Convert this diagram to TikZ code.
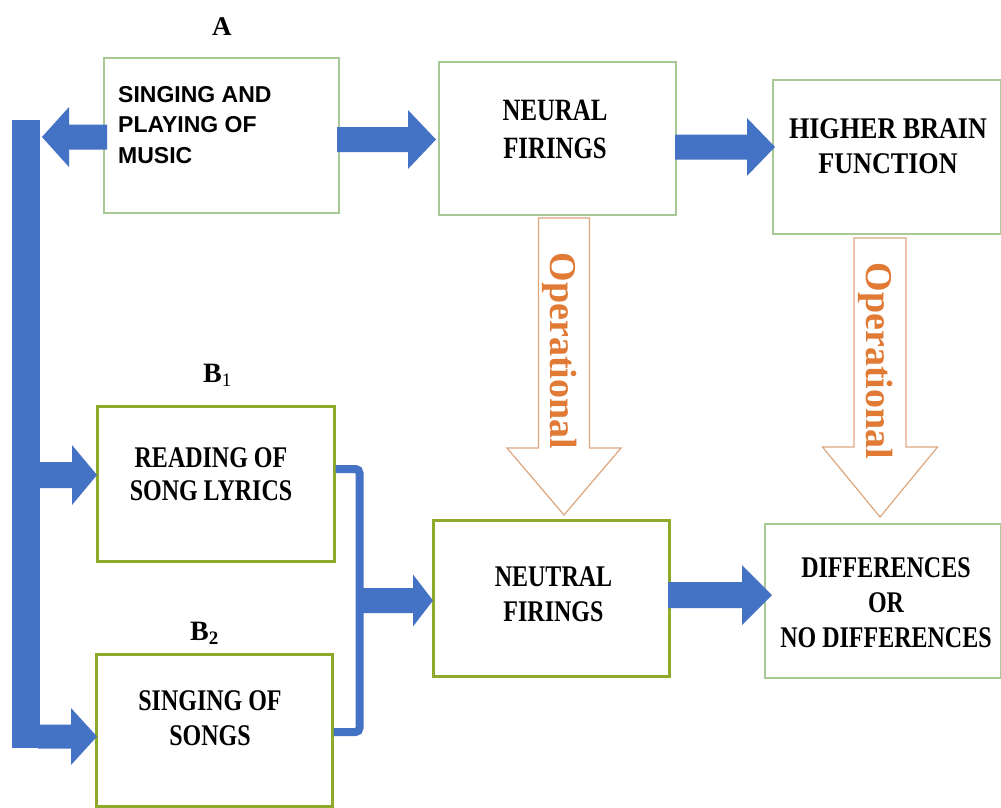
\documentclass[tikz,border=0pt]{standalone}
\usepackage{fontspec}
\usepackage{graphicx}
\setmainfont{Liberation Serif}
\newfontfamily\sansbold{Liberation Sans}
\newfontfamily\condserif[FakeStretch=0.8]{Liberation Serif}
\newfontfamily\condserifb[FakeStretch=0.87]{Liberation Serif}
\definecolor{officeblue}{RGB}{68,114,196}
\definecolor{palegreen}{RGB}{168,200,150}
\definecolor{olivegreen}{RGB}{143,170,43}
\definecolor{optext}{RGB}{224,122,53}
\definecolor{opline}{RGB}{221,167,126}
\newcommand\myRArrow[6]{% start x, tip x, head base x, centre y, shaft half, head half
  \fill[officeblue] (#1,{#4-#5}) -- (#3,{#4-#5}) -- (#3,{#4-#6}) -- (#2,#4) -- (#3,{#4+#6}) -- (#3,{#4+#5}) -- (#1,{#4+#5}) -- cycle;}
\newcommand\myDArrow[6]{% centre x, top, head base, tip, shaft half, head half
  \draw[oparrow] ({#1-#5},#2) -- ({#1+#5},#2) -- ({#1+#5},#3) -- ({#1+#6},#3) -- (#1,#4) -- ({#1-#6},#3) -- ({#1-#5},#3) -- cycle;}
\begin{document}
\begin{tikzpicture}[x=1pt,y=-1pt,
  lightbox/.style={draw=palegreen, line width=1.8pt, fill=white, inner sep=0pt, anchor=north west},
  olivebox/.style={draw=olivegreen, line width=2.6pt, fill=white, inner sep=0pt, anchor=north west},
  boxtext/.style={inner sep=0pt, align=center, font=\condserif\bfseries\fontsize{30}{35}\selectfont},
  oparrow/.style={draw=opline, line width=1.2pt, fill=white},
  optxt/.style={inner sep=0pt, rotate=-90, text=optext, font=\bfseries\fontsize{38}{38}\selectfont},
  lbl/.style={inner sep=0pt, anchor=base west, font=\bfseries\fontsize{28}{28}\selectfont}]
\useasboundingbox (0,0) rectangle (1001,807);
\fill[white] (0,0) rectangle (1001,807);

% boxes
\node[lightbox, minimum width=235pt, minimum height=155pt] (A) at (103,57) {};
\node[lightbox, minimum width=237pt, minimum height=153pt] (NF) at (438,61) {};
\node[lightbox, minimum width=228pt, minimum height=154pt] (HB) at (772,79) {};
\node[olivebox, minimum width=236pt, minimum height=156pt] (NT) at (432,519) {};
\node[lightbox, minimum width=236pt, minimum height=154pt] (DF) at (764,523) {};
\node[olivebox, minimum width=237pt, minimum height=155pt] (B1) at (96,405) {};
\node[olivebox, minimum width=236pt, minimum height=152pt] (B2) at (95,653) {};

% texts
\node[inner sep=0pt, anchor=north west, align=left,
      font=\sansbold\bfseries\fontsize{23}{30.5}\selectfont] (At) at (118,86) {SINGING AND\\PLAYING OF\\MUSIC};
\node[boxtext, font=\condserif\bfseries\fontsize{31}{38}\selectfont] (NFt) at (555,129) {NEURAL\\FIRINGS};
\node[boxtext, font=\condserifb\bfseries\fontsize{30}{35}\selectfont] (HBt) at (888,146.5) {HIGHER BRAIN\\FUNCTION};
\node[boxtext, font=\condserif\bfseries\fontsize{30}{33.5}\selectfont] (B1t) at (211,474) {READING OF\\SONG LYRICS};
\node[boxtext] (B2t) at (210,718.5) {SINGING OF\\SONGS};
\node[boxtext] (NTt) at (553.5,594.5) {NEUTRAL\\FIRINGS};
\node[boxtext] (DFt) at (886,603) {DIFFERENCES\\OR\\NO DIFFERENCES};

% labels
\node[inner sep=0pt, anchor=base west, font=\bfseries\fontsize{27}{27}\selectfont] (LA) at (212,35) {A};
\node[lbl] (LB1) at (203,382) {B\raisebox{-4pt}{\fontsize{19}{19}\selectfont\mdseries 1}};
\node[lbl] (LB2) at (190,640) {B\raisebox{-4pt}{\fontsize{19}{19}\selectfont 2}};

% operational arrows
\myDArrow{564}{218}{448}{515}{25.5}{57}
\myDArrow{880}{238}{447}{517}{26}{57.5}
\node[optxt] (op1) at (560,351) {Operational};
\node[optxt] (op2) at (876,361) {Operational};

% blue block arrows
\myRArrow{107}{42}{69}{137}{12.5}{30}
\myRArrow{337}{436}{408}{139.5}{12.5}{29.5}
\myRArrow{675}{775}{747}{147}{12.5}{29}
\fill[officeblue] (12,120) rectangle (40,748);
\myRArrow{38}{97}{72}{475}{13}{30}
\myRArrow{38}{97}{71}{736.5}{12}{28.5}
\coordinate (b1o) at (B1.east |- 0,469);
\coordinate (b2o) at (B2.east |- 0,732);
\draw[officeblue, line width=8pt, rounded corners=4pt] (b1o) -- (359.5,469) -- (359.5,732) -- (b2o);
\myRArrow{359}{433}{413}{600.5}{12.5}{26}
\myRArrow{668}{772}{742}{595}{13}{30}
\end{tikzpicture}
\end{document}
